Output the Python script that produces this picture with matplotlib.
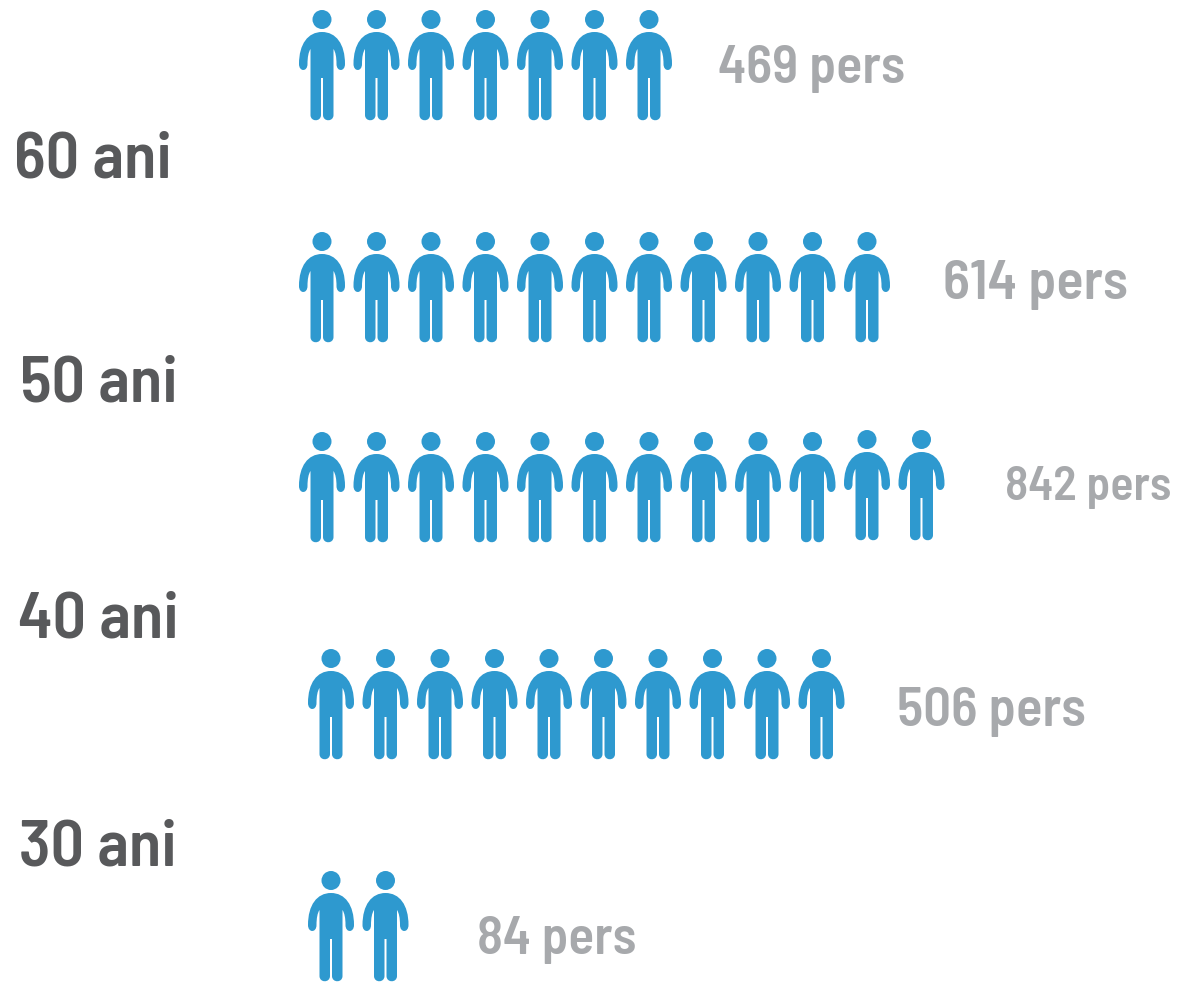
import matplotlib
matplotlib.use('Agg')
import matplotlib.pyplot as plt
import numpy as np
from matplotlib.path import Path
from matplotlib.patches import PathPatch, Circle

# date
varste = ['60 ani', '50 ani', '40 ani', '30 ani']
persoane = [469, 614, 842, 506, 84]
nr_icoane = [7, 11, 12, 10, 2]

# layout in pixeli
rand_x = [322, 322, 322, 331, 331]
rand_y = [11, 233, 433, 650, 872]
pas = 54.5
text_x = [718, 943, 1005, 897, 477]
text_y = [83, 299, 500, 726, 954]
text_size = [39, 40.5, 34.5, 39.5, 38.5]
varsta_x = [14, 20, 18, 19]
varsta_y = [178, 402, 637, 865]

albastru = '#2e99cf'
gri = '#a7a9ac'
gri_inchis = '#58595b'

plt.rcParams['font.family'] = ['Barlow Semi Condensed', 'Lato']


def corp(cx, top):
    # silueta fara cap, coordonate relative la centru si varful randului
    M, L, C, Z = Path.MOVETO, Path.LINETO, Path.CURVE4, Path.CLOSEPOLY
    v = [(-23, 54), (-23, 34), (-14, 22), (0, 22),
         (14, 22), (23, 34), (23, 54),
         (23, 62), (14.5, 62), (14.5, 54),
         (14.5, 47), (13.5, 42), (11.5, 39), (11.5, 105),
         (11.5, 112), (1, 112), (1, 105), (1, 68), (-1, 68), (-1, 105),
         (-1, 112), (-11.5, 112), (-11.5, 105), (-11.5, 39),
         (-13.5, 42), (-14.5, 47), (-14.5, 54),
         (-14.5, 62), (-23, 62), (-23, 54), (-23, 54)]
    c = [M, C, C, C,
         C, C, C,
         C, C, C,
         C, C, C, L,
         C, C, C, L, L, L,
         C, C, C, L,
         C, C, C,
         C, C, C, Z]
    return Path([(cx + x, top + y) for x, y in v], c)


fig = plt.figure(figsize=(11.78, 9.87), dpi=100)
ax = fig.add_axes([0, 0, 1, 1])
ax.set_xlim(0, 1178)
ax.set_ylim(987, 0)
ax.axis('off')

for i, n in enumerate(nr_icoane):
    for j, cx in enumerate(rand_x[i] + pas * np.arange(n)):
        # ultimele doua de pe randul 842 sunt putin mai sus
        top = rand_y[i] - (2 if n == 12 and j >= 10 else 0)
        ax.add_patch(Circle((cx, top + 9.5), 9.5, fc=albastru, ec='none'))
        ax.add_patch(PathPatch(corp(cx, top), fc=albastru, ec='none'))
    ax.text(text_x[i], text_y[i], '%d pers' % persoane[i], color=gri,
            fontsize=text_size[i], fontweight=600, va='baseline', ha='left')

for i, v in enumerate(varste):
    ax.text(varsta_x[i], varsta_y[i], v, color=gri_inchis, fontsize=47.5,
            fontweight=600, va='baseline', ha='left')

fig.savefig('out.png', dpi=100)
